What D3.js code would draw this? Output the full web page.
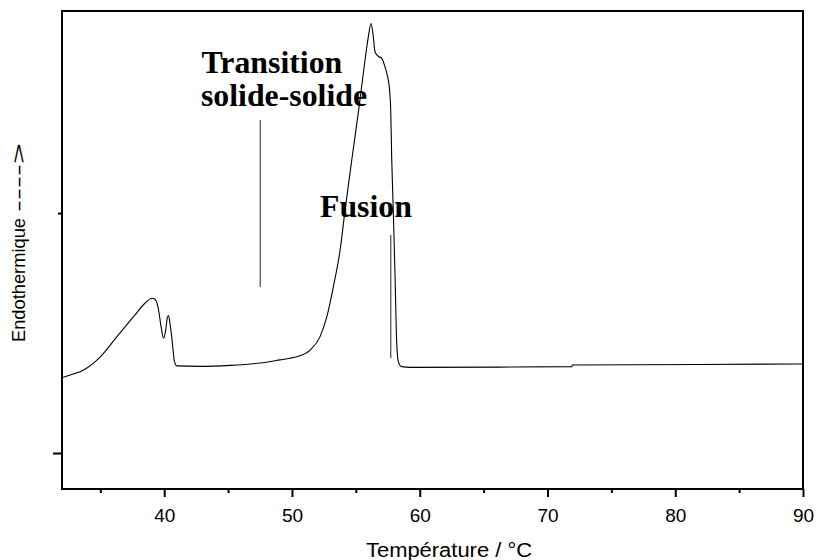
<!DOCTYPE html>
<html>
<head>
<meta charset="utf-8">
<script src="https://cdn.jsdelivr.net/npm/d3@7"></script>
<style>
  html, body { margin: 0; padding: 0; background: #fff; }
  svg { display: block; }
</style>
</head>
<body>
<svg id="chart" width="817" height="560"></svg>
<script>
// DSC thermogram: temperature (°C) vs heat flow (arbitrary units, endothermic up)
const temperature = [
  32.05, 32.65, 33.69, 35.0, 36.3, 37.6, 38.51, 39.04, 39.3, 39.56, 39.77, 39.95,
  40.12, 40.24, 40.34, 40.47, 40.6, 40.71, 40.81, 41.0, 42.82, 45.16, 47.51, 49.07,
  49.86, 50.38, 51.42, 52.2, 52.73, 53.24, 53.77, 54.16, 54.68, 55.22, 55.72, 55.96,
  56.19, 56.35, 56.5, 56.74, 57.03, 57.21, 57.42, 57.6, 57.68, 57.73, 57.81, 57.93,
  58.07, 58.2, 58.33, 58.59, 59.24, 66.28, 71.91, 71.95, 81.92, 89.98
];
const heatFlow = [
  3.15, 3.25, 3.46, 4.01, 4.85, 5.68, 6.25, 6.45, 6.40, 5.96, 5.21, 4.78,
  5.13, 5.63, 5.73, 5.33, 4.79, 4.21, 3.79, 3.63, 3.61, 3.65, 3.75, 3.88,
  3.95, 4.01, 4.29, 4.85, 5.68, 6.93, 8.46, 10.13, 12.21, 14.29, 16.38, 17.29,
  17.90, 17.42, 16.72, 16.54, 16.45, 16.21, 15.83, 15.33, 14.85, 14.29, 12.21, 10.13,
  7.35, 4.58, 3.80, 3.60, 3.57, 3.58, 3.60, 3.67, 3.69, 3.71
];

// Axis ticks
const xMajorTicks = [40, 50, 60, 70, 80, 90];
const xMinorTicks = [35, 45, 55, 65, 75, 85];
const yMajorTicks = [0];
const yMinorTicks = [10];

// Annotations: marker lines (temperature, from, to)
const markerTemp = [47.52, 57.73];
const markerTop = [13.875, 9.08];
const markerBottom = [6.92, 3.96];

const svg = d3.select("#chart");
const plotLeft = 62, plotRight = 803, plotTop = 11, plotBottom = 489;

const x = d3.scaleLinear().domain([32, 90]).range([plotLeft, plotRight]);
const y = d3.scaleLinear().domain([-1.5, 18.42]).range([plotBottom, plotTop]);

// Plot frame
svg.append("rect")
  .attr("x", plotLeft).attr("y", plotTop)
  .attr("width", plotRight - plotLeft).attr("height", plotBottom - plotTop)
  .attr("fill", "none").attr("stroke", "#000").attr("stroke-width", 2);

// X axis: major ticks with labels
const xAxis = svg.append("g")
  .attr("transform", `translate(0,${plotBottom})`)
  .call(d3.axisBottom(x).tickValues(xMajorTicks).tickSize(8).tickPadding(11.5).tickSizeOuter(0)
    .tickFormat(d3.format("d")));
xAxis.select(".domain").remove();
xAxis.selectAll(".tick line").attr("stroke", "#000").attr("stroke-width", 2);
xAxis.selectAll(".tick text")
  .attr("fill", "#000")
  .style("font-family", "'Liberation Sans', Arial, sans-serif")
  .style("font-size", "19px");

// X axis: minor ticks
const xMinor = svg.append("g")
  .attr("transform", `translate(0,${plotBottom})`)
  .call(d3.axisBottom(x).tickValues(xMinorTicks).tickSize(4).tickFormat(""));
xMinor.select(".domain").remove();
xMinor.selectAll(".tick line").attr("stroke", "#000").attr("stroke-width", 2);

// Y axis: unlabeled ticks
const yMajor = svg.append("g")
  .attr("transform", `translate(${plotLeft},0)`)
  .call(d3.axisLeft(y).tickValues(yMajorTicks).tickSize(9).tickFormat(""));
yMajor.select(".domain").remove();
yMajor.selectAll(".tick line").attr("stroke", "#000").attr("stroke-width", 2);

const yMinor = svg.append("g")
  .attr("transform", `translate(${plotLeft},0)`)
  .call(d3.axisLeft(y).tickValues(yMinorTicks).tickSize(4).tickFormat(""));
yMinor.select(".domain").remove();
yMinor.selectAll(".tick line").attr("stroke", "#000").attr("stroke-width", 2);

// Axis titles
svg.append("text")
  .attr("x", 366).attr("y", 556.5)
  .attr("textLength", 166).attr("lengthAdjust", "spacingAndGlyphs")
  .style("font-family", "'Liberation Sans', Arial, sans-serif")
  .style("font-size", "19.5px")
  .attr("fill", "#000")
  .text("Température / °C");

const yTitle = svg.append("text")
  .attr("transform", "translate(25,342) rotate(-90)")
  .style("font-family", "'Liberation Sans', Arial, sans-serif")
  .style("font-size", "17.5px")
  .attr("fill", "#000");
yTitle.append("tspan").attr("x", 0).attr("textLength", 124).attr("lengthAdjust", "spacingAndGlyphs")
  .text("Endothermique");
yTitle.append("tspan").attr("x", 130).attr("textLength", 69).attr("lengthAdjust", "spacingAndGlyphs")
  .text("---->");

// Thermogram curve
const points = temperature.map((t, i) => [t, heatFlow[i]]);
svg.append("path")
  .datum(points)
  .attr("fill", "none")
  .attr("stroke", "#000")
  .attr("stroke-width", 1.1)
  .attr("d", d3.line().x(d => x(d[0])).y(d => y(d[1])).curve(d3.curveMonotoneX));

// Marker lines under the annotations
svg.selectAll(".marker")
  .data(markerTemp)
  .join("line")
  .attr("class", "marker")
  .attr("x1", d => x(d)).attr("x2", d => x(d))
  .attr("y1", (d, i) => y(markerTop[i]))
  .attr("y2", (d, i) => y(markerBottom[i]))
  .attr("stroke", "#555").attr("stroke-width", 1.3);

// Annotation labels
const serif = "'Liberation Serif', 'Times New Roman', serif";
[["Transition", 201.5, 72.7], ["solide-solide", 201, 106], ["Fusion", 320, 216.7]]
  .forEach(([label, tx, ty]) => {
    svg.append("text")
      .attr("x", tx).attr("y", ty)
      .style("font-family", serif)
      .style("font-weight", "bold")
      .style("font-size", "31.8px")
      .attr("fill", "#000")
      .text(label);
  });
</script>
</body>
</html>
